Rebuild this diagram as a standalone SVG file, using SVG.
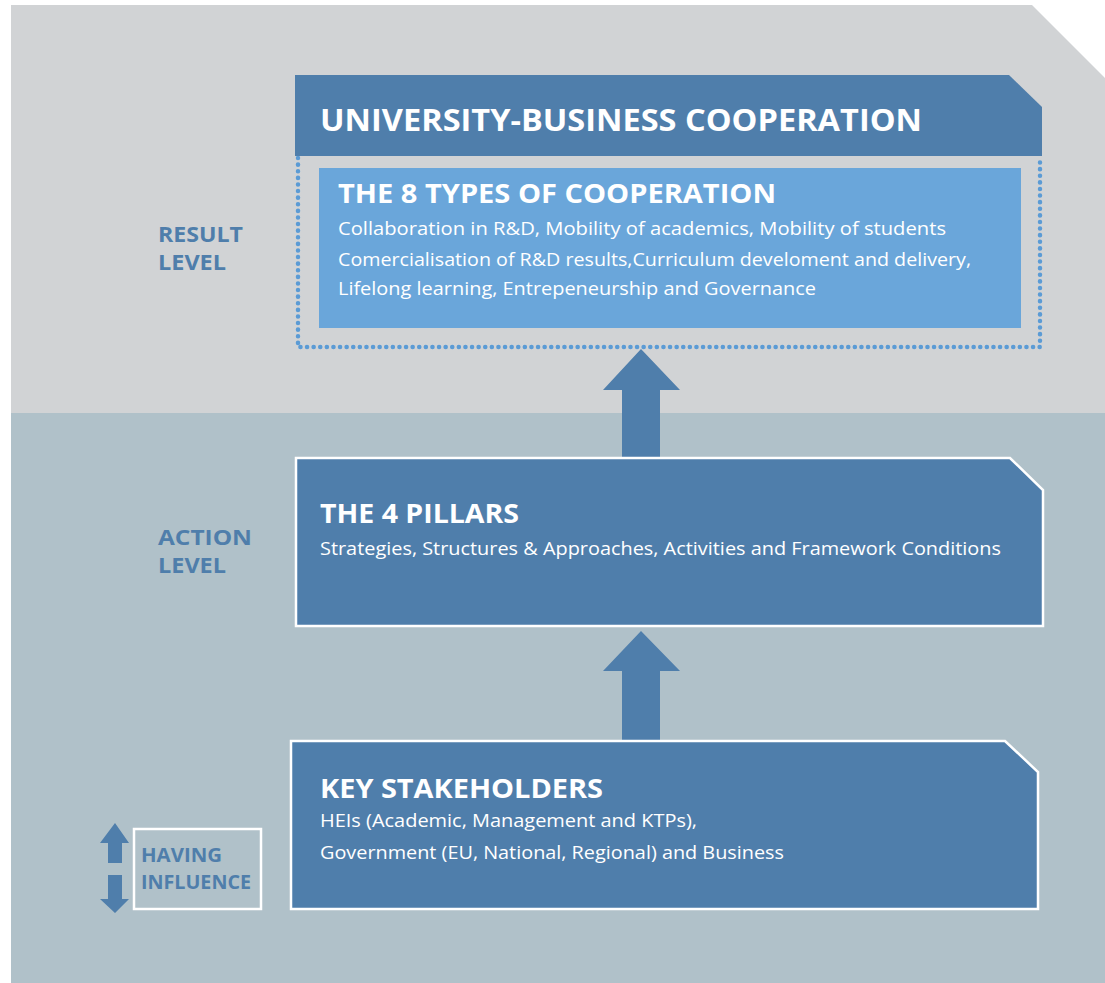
<svg xmlns="http://www.w3.org/2000/svg" width="1105" height="983" viewBox="0 0 1105 983">
  <defs>
    <style>
      .bg-top { fill: #d1d3d5; }
      .bg-bot { fill: #b0c1c9; }
      .dark { fill: #4f7eab; }
      .box { fill: #4f7eab; stroke: #ffffff; stroke-width: 2.5; }
      .light { fill: #6aa6da; }
      .dots { fill: none; stroke: #5b9bd5; stroke-width: 4.5; stroke-dasharray: 0.1 6.5; stroke-linecap: round; }
      .arrow { fill: #4f7eab; }
      .title { font-family: "Open Sans", "Liberation Sans", sans-serif; font-weight: bold; fill: #ffffff; }
      .body { font-family: "Open Sans", "Liberation Sans", sans-serif; fill: #ffffff; font-size: 18px; }
      .lvl { font-family: "Open Sans", "Liberation Sans", sans-serif; font-weight: bold; fill: #4f7eab; }
    </style>
  </defs>

  <!-- backgrounds -->
  <g id="background">
    <polygon class="bg-top" points="11,5 1032,5 1105,78 1105,413 11,413"/>
    <rect class="bg-bot" x="11" y="413" width="1094" height="570"/>
  </g>

  <!-- level labels -->
  <g id="result-level">
    <text class="lvl" font-size="21" x="158" y="242" textLength="85" lengthAdjust="spacingAndGlyphs">RESULT</text>
    <text class="lvl" font-size="21" x="158" y="270" textLength="68" lengthAdjust="spacingAndGlyphs">LEVEL</text>
  </g>
  <g id="action-level">
    <text class="lvl" font-size="21" x="158" y="545" textLength="94" lengthAdjust="spacingAndGlyphs">ACTION</text>
    <text class="lvl" font-size="21" x="158" y="573" textLength="68" lengthAdjust="spacingAndGlyphs">LEVEL</text>
  </g>

  <!-- University-Business Cooperation -->
  <g id="ubc">
    <polygon class="dark" points="295,75 1009,75 1042,107 1042,156 295,156"/>
    <text class="title" font-size="31" x="320" y="131" textLength="602" lengthAdjust="spacingAndGlyphs">UNIVERSITY-BUSINESS COOPERATION</text>
    <polyline class="dots" points="298,158 298,347 1040,347 1040,158"/>
  </g>

  <g id="types">
    <rect class="light" x="319" y="168" width="702" height="160"/>
    <text class="title" font-size="26" x="338" y="203" textLength="438" lengthAdjust="spacingAndGlyphs">THE 8 TYPES OF COOPERATION</text>
    <text class="body" x="338" y="235" textLength="608" lengthAdjust="spacingAndGlyphs">Collaboration in R&amp;D, Mobility of academics, Mobility of students</text>
    <text class="body" x="338" y="266" textLength="633" lengthAdjust="spacingAndGlyphs">Comercialisation of R&amp;D results,Curriculum develoment and delivery,</text>
    <text class="body" x="338" y="295" textLength="478" lengthAdjust="spacingAndGlyphs">Lifelong learning, Entrepeneurship and Governance</text>
  </g>

  <!-- connectors -->
  <g id="connectors">
    <polygon class="arrow" points="641,349 680,390 660,390 660,457 622,457 622,390 603,390"/>
    <polygon class="arrow" points="641,631 680,671 660,671 660,740 622,740 622,671 603,671"/>
  </g>

  <!-- 4 pillars -->
  <g id="pillars">
    <polygon class="box" points="296,458 1010,458 1043,490 1043,626 296,626"/>
    <text class="title" font-size="26" x="320" y="523" textLength="199" lengthAdjust="spacingAndGlyphs">THE 4 PILLARS</text>
    <text class="body" x="320" y="555" textLength="681" lengthAdjust="spacingAndGlyphs">Strategies, Structures &amp; Approaches, Activities and Framework Conditions</text>
  </g>

  <!-- key stakeholders -->
  <g id="stakeholders">
    <polygon class="box" points="291,741 1005,741 1038,772 1038,909 291,909"/>
    <text class="title" font-size="26" x="320" y="798" textLength="283" lengthAdjust="spacingAndGlyphs">KEY STAKEHOLDERS</text>
    <text class="body" x="320" y="827" textLength="377" lengthAdjust="spacingAndGlyphs">HEIs (Academic, Management and KTPs),</text>
    <text class="body" x="320" y="859" textLength="464" lengthAdjust="spacingAndGlyphs">Government (EU, National, Regional) and Business</text>
  </g>

  <!-- having influence -->
  <g id="influence">
    <polygon class="arrow" points="115,823 129,843 122,843 122,863 108,863 108,843 100,843"/>
    <polygon class="arrow" points="115,913 129,899 122,899 122,875 108,875 108,899 100,899"/>
    <rect x="134" y="829" width="127" height="80" fill="none" stroke="#ffffff" stroke-width="2.5"/>
    <text class="lvl" font-size="19" x="141" y="862" textLength="81" lengthAdjust="spacingAndGlyphs">HAVING</text>
    <text class="lvl" font-size="19" x="141" y="889" textLength="110" lengthAdjust="spacingAndGlyphs">INFLUENCE</text>
  </g>
</svg>
